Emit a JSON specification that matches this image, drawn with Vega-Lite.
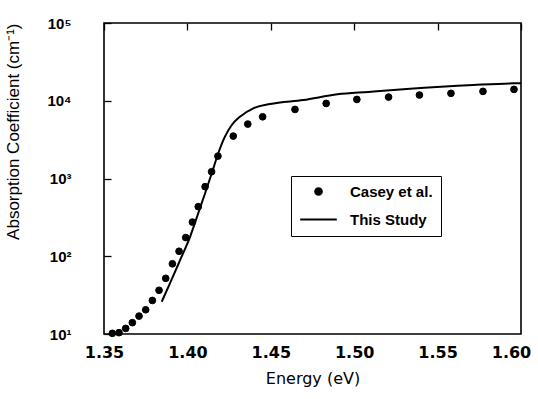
{
  "$schema": "https://vega.github.io/schema/vega-lite/v6.json",
  "width": 417,
  "height": 311,
  "autosize": {"type": "none"},
  "padding": {"left": 104, "top": 23, "right": 17, "bottom": 65},
  "background": "white",
  "config": {
    "view": {"stroke": "black", "strokeWidth": 1.6, "fill": "transparent"},
    "axis": {"domain": false, "ticks": false, "grid": true, "gridColor": "black", "gridOpacity": 1, "gridWidth": 1.3, "labelColor": "black", "titleColor": "black", "labelOverlap": false, "labelFlush": false}
  },
  "datasets": {
    "casey": [
      {"energy": 1.355, "alpha": 10.2, "series": "Casey et al."},
      {"energy": 1.359, "alpha": 10.4, "series": "Casey et al."},
      {"energy": 1.363, "alpha": 11.8, "series": "Casey et al."},
      {"energy": 1.367, "alpha": 14.0, "series": "Casey et al."},
      {"energy": 1.371, "alpha": 17.0, "series": "Casey et al."},
      {"energy": 1.375, "alpha": 20.5, "series": "Casey et al."},
      {"energy": 1.379, "alpha": 27, "series": "Casey et al."},
      {"energy": 1.383, "alpha": 36.5, "series": "Casey et al."},
      {"energy": 1.387, "alpha": 52, "series": "Casey et al."},
      {"energy": 1.391, "alpha": 80, "series": "Casey et al."},
      {"energy": 1.395, "alpha": 116, "series": "Casey et al."},
      {"energy": 1.399, "alpha": 174, "series": "Casey et al."},
      {"energy": 1.403, "alpha": 275, "series": "Casey et al."},
      {"energy": 1.4065, "alpha": 434, "series": "Casey et al."},
      {"energy": 1.4106, "alpha": 785, "series": "Casey et al."},
      {"energy": 1.4145, "alpha": 1222, "series": "Casey et al."},
      {"energy": 1.4183, "alpha": 1940, "series": "Casey et al."},
      {"energy": 1.4275, "alpha": 3510, "series": "Casey et al."},
      {"energy": 1.4362, "alpha": 5010, "series": "Casey et al."},
      {"energy": 1.4451, "alpha": 6220, "series": "Casey et al."},
      {"energy": 1.4645, "alpha": 7730, "series": "Casey et al."},
      {"energy": 1.4832, "alpha": 9240, "series": "Casey et al."},
      {"energy": 1.5016, "alpha": 10400, "series": "Casey et al."},
      {"energy": 1.5206, "alpha": 11150, "series": "Casey et al."},
      {"energy": 1.5391, "alpha": 11850, "series": "Casey et al."},
      {"energy": 1.558, "alpha": 12450, "series": "Casey et al."},
      {"energy": 1.5772, "alpha": 13200, "series": "Casey et al."},
      {"energy": 1.5958, "alpha": 14000, "series": "Casey et al."}
    ],
    "study": [
      {"energy": 1.3846, "alpha": 26},
      {"energy": 1.3896, "alpha": 45},
      {"energy": 1.3956, "alpha": 89},
      {"energy": 1.4016, "alpha": 178},
      {"energy": 1.4065, "alpha": 357},
      {"energy": 1.4106, "alpha": 646},
      {"energy": 1.4146, "alpha": 1167},
      {"energy": 1.4185, "alpha": 2110},
      {"energy": 1.4225, "alpha": 3450},
      {"energy": 1.4266, "alpha": 4880},
      {"energy": 1.4315, "alpha": 6240},
      {"energy": 1.4395, "alpha": 8000},
      {"energy": 1.4495, "alpha": 9085},
      {"energy": 1.4695, "alpha": 10230},
      {"energy": 1.4900, "alpha": 12100},
      {"energy": 1.5085, "alpha": 13000},
      {"energy": 1.5315, "alpha": 14170},
      {"energy": 1.5714, "alpha": 15950},
      {"energy": 1.5954, "alpha": 16760},
      {"energy": 1.6, "alpha": 16800}
    ]
  },
  "layer": [
    {
      "data": {"name": "casey"},
      "mark": {"type": "point", "filled": false, "fill": "black", "stroke": "black", "strokeWidth": 1, "opacity": 1},
      "encoding": {
        "x": {
          "field": "energy", "type": "quantitative",
          "scale": {"domain": [1.35, 1.6], "nice": false, "zero": false},
          "axis": {
            "orient": "bottom", "gridDash": [7, 2000],
            "values": [1.35, 1.4, 1.45, 1.5, 1.55, 1.6],
            "format": ".2f",
            "labelFont": "DejaVu Sans", "labelFontSize": 16, "labelFontWeight": "bold",
            "labelPadding": 10,
            "labelOffset": {"condition": {"test": "datum.value > 1.595", "value": -10}, "value": 0},
            "title": "Energy (eV)", "titleFont": "DejaVu Sans", "titleFontSize": 16, "titleFontWeight": "normal",
            "titleBaseline": "alphabetic", "titleY": 49
          }
        },
        "y": {
          "field": "alpha", "type": "quantitative",
          "scale": {"type": "log", "domain": [10, 100000], "nice": false},
          "axis": {
            "orient": "left", "gridDash": [7, 2000],
            "values": [10, 100, 1000, 10000, 100000],
            "labelExpr": "datum.value == 10 ? '10¹' : datum.value == 100 ? '10²' : datum.value == 1000 ? '10³' : datum.value == 10000 ? '10⁴' : '10⁵'",
            "labelFont": "Liberation Sans", "labelFontSize": 15, "labelFontWeight": "bold",
            "labelPadding": 33,
            "title": "Absorption Coefficient (cm⁻¹)", "titleFont": "Liberation Sans", "titleFontSize": 17, "titleFontWeight": "normal",
            "titleAnchor": "end", "titleX": -82, "titleBaseline": "bottom"
          }
        },
        "shape": {
          "field": "series", "type": "nominal",
          "scale": {"domain": ["Casey et al.", "This Study"], "range": ["circle", "stroke"]},
          "legend": {
            "title": null, "orient": "none", "legendX": 187, "legendY": 153, "direction": "vertical",
            "strokeColor": "black", "fillColor": "white", "padding": 8,
            "symbolOffset": 0, "labelOffset": 12, "rowPadding": -9,
            "labelFont": "Liberation Sans", "labelFontSize": 15, "labelFontWeight": "bold", "labelColor": "black",
            "symbolFillColor": "black", "symbolStrokeColor": "black", "symbolStrokeWidth": 2
          }
        },
        "size": {
          "field": "series", "type": "ordinal",
          "scale": {"domain": ["Casey et al.", "This Study"], "range": [45, 1340]}
        }
      }
    },
    {
      "data": {"name": "study"},
      "mark": {"type": "line", "color": "black", "strokeWidth": 2, "interpolate": "monotone", "clip": true},
      "encoding": {
        "x": {
          "field": "energy", "type": "quantitative",
          "axis": {"orient": "top", "gridDash": [7, 2000], "values": [1.35, 1.4, 1.45, 1.5, 1.55, 1.6], "labels": false, "title": null}
        },
        "y": {
          "field": "alpha", "type": "quantitative",
          "axis": {"orient": "right", "gridDash": [7, 2000], "values": [10, 100, 1000, 10000, 100000], "labels": false, "title": null}
        }
      }
    },
    {
      "data": {"name": "casey"},
      "mark": {"type": "point", "opacity": 0},
      "encoding": {
        "x": {
          "field": "energy", "type": "quantitative",
          "axis": {"orient": "bottom", "gridDash": [4, 2000], "values": [1.36, 1.37, 1.38, 1.39, 1.41, 1.42, 1.43, 1.44, 1.46, 1.47, 1.48, 1.49, 1.51, 1.52, 1.53, 1.54, 1.56, 1.57, 1.58, 1.59], "labels": false, "title": null}
        },
        "y": {
          "field": "alpha", "type": "quantitative",
          "axis": {"orient": "left", "gridDash": [4, 2000], "values": [20, 30, 40, 50, 60, 70, 80, 90, 200, 300, 400, 500, 600, 700, 800, 900, 2000, 3000, 4000, 5000, 6000, 7000, 8000, 9000, 20000, 30000, 40000, 50000, 60000, 70000, 80000, 90000], "labels": false, "title": null}
        }
      }
    },
    {
      "data": {"name": "study"},
      "mark": {"type": "line", "opacity": 0},
      "encoding": {
        "x": {
          "field": "energy", "type": "quantitative",
          "axis": {"orient": "top", "gridDash": [4, 2000], "values": [1.36, 1.37, 1.38, 1.39, 1.41, 1.42, 1.43, 1.44, 1.46, 1.47, 1.48, 1.49, 1.51, 1.52, 1.53, 1.54, 1.56, 1.57, 1.58, 1.59], "labels": false, "title": null}
        },
        "y": {
          "field": "alpha", "type": "quantitative",
          "axis": {"orient": "right", "gridDash": [4, 2000], "values": [20, 30, 40, 50, 60, 70, 80, 90, 200, 300, 400, 500, 600, 700, 800, 900, 2000, 3000, 4000, 5000, 6000, 7000, 8000, 9000, 20000, 30000, 40000, 50000, 60000, 70000, 80000, 90000], "labels": false, "title": null}
        }
      }
    }
  ],
  "resolve": {"axis": {"x": "independent", "y": "independent"}}
}
